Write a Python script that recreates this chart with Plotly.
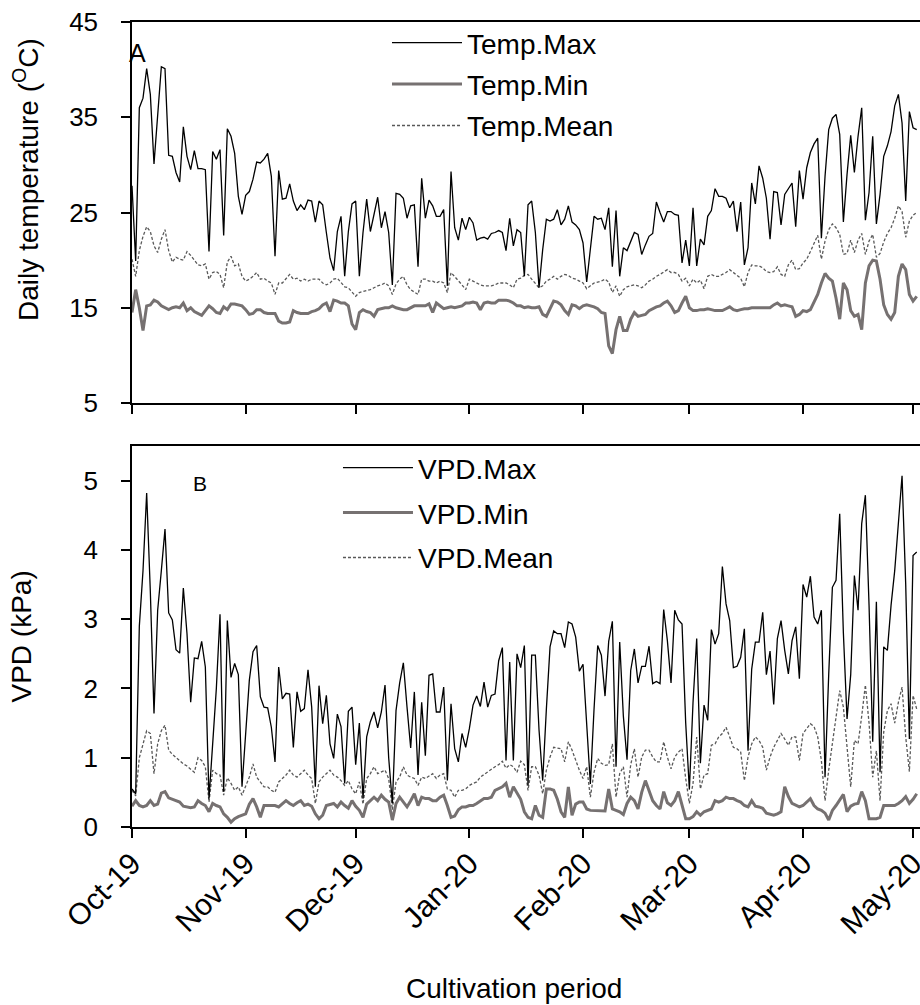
import pandas as pd
import plotly.graph_objects as go

START = "2019-10-01"

temp_max = [
    27.8, 19.9, 36.0, 37.0, 40.1, 37.4, 30.1, 35.0, 40.3, 40.1,
    31.0, 30.9, 29.2, 28.2, 34.0, 30.9, 29.5, 31.5, 29.6, 29.6,
    29.5, 20.9, 31.4, 30.6, 31.6, 22.6, 33.8, 33.0, 31.2, 26.7,
    24.8, 26.8, 27.2, 28.5, 30.3, 30.2, 30.6, 31.2, 28.8, 20.4,
    29.4, 26.4, 26.5, 28.0, 26.2, 25.2, 25.8, 25.3, 26.3, 26.2,
    24.0, 26.2, 25.8, 22.9, 20.2, 18.9, 23.0, 24.6, 18.3, 23.0,
    25.9, 26.2, 18.3, 22.9, 26.4, 23.0, 25.0, 26.6, 23.4, 25.1,
    22.9, 17.4, 27.0, 26.9, 26.5, 24.4, 25.7, 25.8, 19.3, 28.6,
    24.4, 26.3, 25.7, 24.6, 24.6, 25.3, 17.3, 29.3, 23.4, 22.1,
    24.4, 23.2, 24.5, 23.9, 22.1, 22.3, 22.4, 22.2, 22.8, 22.9,
    23.1, 22.9, 21.0, 24.4, 21.5, 23.2,
    22.9, 18.3, 25.8, 26.2, 22.9, 17.1, 21.1, 24.3, 24.1, 24.3,
    25.3, 23.7, 24.3, 25.7, 24.0, 23.7, 23.2, 21.8, 17.7, 21.5,
    24.6, 24.3, 24.4, 23.2, 25.5, 19.3, 25.2, 18.3, 21.3, 21.0,
    21.9, 22.9, 22.7, 20.6, 21.6, 22.5, 22.8, 26.1, 25.0, 24.0,
    25.1, 25.1, 24.8, 24.7, 19.7, 22.1, 19.4, 25.5, 19.4, 22.2,
    21.6, 24.6, 25.2, 27.5, 26.7, 26.7, 26.5, 25.5, 26.2, 23.0,
    26.1, 19.5, 21.3, 28.1, 25.9, 29.9, 28.6, 26.5, 22.2, 27.2,
    27.1, 23.7, 26.9, 27.5, 28.1, 23.5, 29.4, 26.4, 29.7, 31.3,
    32.2, 32.8, 22.3, 28.8, 33.7, 34.9, 35.3, 33.2, 24.0, 29.0,
    33.1, 29.2, 33.0, 36.0, 24.2, 27.1, 33.0, 23.8, 26.9, 30.9,
    32.0, 33.5, 36.2, 37.4, 34.4, 26.2, 35.6, 33.9, 33.7,
]

temp_min = [
    14.5, 16.9, 15.0, 12.6, 15.2, 15.3, 15.8, 15.6, 15.2, 15.0,
    14.8, 15.0, 15.1, 15.0, 15.5, 14.7, 15.0, 14.6, 14.4, 14.2,
    14.7, 15.2, 14.9, 14.5, 14.4, 15.1, 14.8, 15.4, 15.4, 15.3,
    15.2, 14.8, 14.3, 14.4, 14.8, 14.8, 14.5, 14.4, 14.4, 14.4,
    13.6, 13.4, 13.4, 13.5, 14.7, 14.5, 14.4, 14.4, 14.4, 14.6,
    14.7, 14.9, 15.3, 15.5, 14.6, 15.8, 15.7, 15.5, 15.5, 15.2,
    13.3, 12.7, 14.5, 14.8, 14.6, 14.5, 14.1, 14.8, 14.9, 15.0,
    15.0, 15.2, 15.0, 14.9, 14.8, 14.8, 15.0, 15.2, 15.2, 15.2,
    15.2, 15.4, 14.5, 15.5, 15.2, 14.9, 15.0, 15.1, 15.0, 15.1,
    15.2, 15.5, 15.5, 15.6, 15.5, 14.8, 15.5, 15.6, 15.5, 15.5,
    15.8, 15.8, 15.8, 15.7, 15.5, 15.2,
    15.2, 15.0, 15.1, 15.0, 15.0, 15.1, 14.3, 14.1, 15.0, 15.7,
    15.6, 15.3, 14.7, 14.3, 15.3, 15.2, 14.9, 15.2, 15.3, 15.2,
    15.1, 14.9, 14.5, 14.4, 11.0, 10.2, 12.7, 14.1, 12.6, 12.6,
    13.8, 14.5, 14.1, 14.2, 14.3, 14.7, 14.9, 15.1, 15.2, 15.5,
    15.7, 15.2, 14.5, 14.7, 15.5, 16.2, 15.0, 14.7, 14.7, 14.8,
    14.8, 14.9, 14.8, 14.7, 14.7, 14.7, 14.9, 15.1, 14.8, 14.7,
    14.8, 14.9, 14.9, 15.0, 15.0, 15.0, 15.0, 15.0, 15.0, 15.3,
    15.5, 15.2, 15.3, 15.2, 15.1, 14.1, 14.3, 14.7, 14.6, 14.8,
    15.6, 16.4, 17.6, 18.6, 18.1, 17.8, 16.0, 13.8, 17.6, 16.9,
    14.7, 14.1, 14.3, 12.7, 17.6, 19.4, 20.0, 19.9, 18.0, 15.3,
    14.3, 13.8, 14.5, 18.3, 19.6, 19.0, 16.4, 15.7, 16.2,
]

temp_mean = [
    20.1, 18.3, 21.0, 22.5, 23.5, 23.0, 21.5, 20.8, 22.2, 23.2,
    21.0, 19.8, 20.3, 20.1, 20.0, 20.9, 20.5, 20.0, 19.5, 19.4,
    19.6, 18.0, 18.7, 18.8, 18.5, 17.1, 19.8, 20.4, 19.4, 19.6,
    18.3, 17.8, 18.0, 18.3, 18.7, 18.0, 18.1, 17.8, 17.6, 16.4,
    17.6, 17.6, 18.1, 18.5, 18.0, 18.1, 17.8, 18.0, 17.8, 18.0,
    18.0, 18.0, 17.6, 17.4, 17.6, 18.0, 18.1, 17.6, 17.2, 17.1,
    16.6, 16.2, 16.6, 16.7, 16.8, 16.9, 17.1, 17.3, 17.4, 17.6,
    17.3, 16.4, 17.5, 18.0, 18.3, 17.4, 16.9, 16.6, 16.4, 18.0,
    18.0, 17.8, 17.8, 17.6, 17.8, 17.6, 16.6, 18.7, 18.3, 17.8,
    17.4, 16.9, 18.0, 17.8, 17.6, 17.4, 17.3, 17.3, 17.3, 17.4,
    17.6, 17.6, 17.6, 17.4, 17.1, 18.0,
    18.1, 18.4, 18.5, 18.0, 17.6, 17.1, 17.3, 17.8, 18.0, 18.3,
    18.0, 18.3, 18.5, 18.4, 18.1, 18.0, 17.8, 17.6, 17.0, 17.3,
    17.6, 17.7, 17.8, 18.0, 17.7, 16.6, 17.3, 16.2, 16.9, 17.2,
    17.3, 17.4, 17.3, 17.1, 17.4, 17.8, 18.0, 18.3, 18.5, 18.8,
    19.0, 18.7, 18.7, 18.5, 17.8, 18.1, 17.3, 18.0, 17.6, 17.9,
    17.0, 18.3, 18.5, 18.3, 18.3, 18.5, 18.7, 19.0, 18.7, 18.4,
    18.1, 17.2, 18.7, 19.5, 19.4, 19.4, 19.2, 18.8, 18.7, 18.8,
    19.3, 18.5, 18.3, 19.5, 20.0, 19.0, 19.1, 19.7, 20.1, 20.9,
    21.8, 22.6, 20.1, 22.0, 23.2, 23.8, 23.4, 22.7, 20.6, 20.7,
    22.1, 20.8, 22.1, 22.8, 20.6, 22.0, 22.7, 20.3, 20.7, 21.9,
    22.8, 23.4, 24.4, 25.7, 25.1, 22.4, 24.1, 24.7, 25.0,
]

vpd_max = [
    0.55, 0.48, 2.90, 3.70, 4.82, 3.40, 1.64, 3.13, 3.70, 4.30,
    3.09, 2.99, 2.56, 2.51, 3.45, 2.79, 1.80, 2.44, 2.43, 2.68,
    2.31, 0.41, 1.20, 2.00, 3.07, 0.51, 2.98, 2.16, 2.36, 2.20,
    0.58, 1.40, 2.12, 2.53, 2.62, 1.88, 1.73, 1.72, 1.44, 0.94,
    2.31, 1.85, 1.93, 1.92, 1.15, 1.95, 1.67, 1.71, 2.27, 1.73,
    0.58, 2.04, 1.49, 1.90, 1.20, 0.99, 1.63, 1.45, 0.63, 1.67,
    1.73, 0.90, 1.50, 0.41, 1.30, 1.52, 1.66, 1.43, 1.66, 2.05,
    1.00, 0.34, 1.68, 2.08, 2.37, 1.73, 1.14, 1.95, 0.75, 1.80,
    1.03, 2.19, 2.21, 1.66, 1.66, 2.02, 0.67, 1.78, 1.13, 0.94,
    1.35, 1.15, 1.42, 1.76, 1.89, 1.74, 2.09, 1.73, 1.90, 1.92,
    2.40, 2.59, 0.96, 2.38, 0.96, 2.50,
    2.30, 2.62, 0.60, 2.48, 2.48, 1.40, 0.67, 1.70, 2.60, 2.83,
    2.79, 2.79, 2.59, 2.96, 2.93, 2.74, 2.25, 2.35, 1.40, 0.62,
    1.70, 2.62, 2.48, 1.89, 2.68, 2.97, 0.87, 2.67, 1.60, 0.97,
    2.26, 2.57, 2.08, 2.32, 2.32, 2.61, 2.07, 2.10, 2.07, 3.14,
    2.69, 2.08, 3.13, 2.99, 2.93, 1.50, 0.54, 1.80, 2.72, 0.92,
    1.76, 1.54, 2.85, 2.64, 2.79, 3.76, 3.22, 2.98, 2.30, 2.32,
    2.45, 2.86, 1.10, 2.28, 2.67, 2.67, 3.10, 2.20, 2.54, 1.77,
    2.72, 2.98, 2.55, 2.21, 2.69, 2.89, 2.14, 3.50, 3.32, 3.62,
    3.03, 2.93, 3.13, 0.72, 2.20, 3.46, 3.56, 4.52, 2.80, 1.56,
    2.20, 3.63, 3.13, 4.38, 4.79, 3.20, 1.23, 3.25, 0.79, 2.60,
    2.55, 3.20, 3.70, 4.40, 5.07, 3.50, 1.27, 3.92, 3.97,
]

vpd_min = [
    0.30, 0.38, 0.31, 0.29, 0.31, 0.38, 0.31, 0.33, 0.49, 0.51,
    0.42, 0.40, 0.38, 0.36, 0.30, 0.29, 0.28, 0.29, 0.38, 0.34,
    0.31, 0.22, 0.34, 0.31, 0.29, 0.19, 0.14, 0.07, 0.12, 0.15,
    0.17, 0.19, 0.33, 0.41, 0.29, 0.14, 0.31, 0.31, 0.31, 0.31,
    0.29, 0.34, 0.38, 0.34, 0.31, 0.35, 0.38, 0.31, 0.33, 0.30,
    0.19, 0.12, 0.17, 0.31, 0.33, 0.34, 0.29, 0.36, 0.31, 0.27,
    0.38, 0.30, 0.24, 0.14, 0.33, 0.38, 0.43, 0.38, 0.46, 0.40,
    0.36, 0.10, 0.34, 0.43, 0.36, 0.29, 0.38, 0.48, 0.31, 0.43,
    0.41, 0.41, 0.38, 0.38, 0.43, 0.46, 0.31, 0.14, 0.16, 0.25,
    0.29, 0.29, 0.31, 0.31, 0.34, 0.38, 0.41, 0.41, 0.43, 0.53,
    0.56, 0.58, 0.63, 0.43, 0.58, 0.48,
    0.40, 0.22, 0.14, 0.12, 0.31, 0.17, 0.14, 0.55, 0.55, 0.53,
    0.40, 0.22, 0.14, 0.58, 0.17, 0.33, 0.36, 0.36, 0.26, 0.24,
    0.24, 0.24, 0.23, 0.23, 0.55, 0.26, 0.24, 0.22, 0.18, 0.34,
    0.43, 0.38, 0.26, 0.50, 0.67, 0.53, 0.38, 0.31, 0.26, 0.51,
    0.35, 0.31, 0.38, 0.51, 0.31, 0.12, 0.12, 0.15, 0.22, 0.17,
    0.22, 0.24, 0.26, 0.38, 0.36, 0.38, 0.43, 0.41, 0.41, 0.38,
    0.36, 0.31, 0.29, 0.38, 0.30, 0.29, 0.27, 0.20, 0.18, 0.17,
    0.19, 0.22, 0.58, 0.44, 0.34, 0.31, 0.29, 0.31, 0.36, 0.41,
    0.31, 0.26, 0.24, 0.20, 0.10, 0.24, 0.31, 0.40, 0.47, 0.22,
    0.30, 0.33, 0.34, 0.51, 0.38, 0.12, 0.12, 0.12, 0.14, 0.31,
    0.31, 0.31, 0.31, 0.34, 0.38, 0.44, 0.34, 0.40, 0.48,
]

vpd_mean = [
    0.53, 0.45, 1.00, 1.20, 1.39, 1.35, 0.77, 1.20, 1.39, 1.47,
    1.11, 1.05, 1.00, 0.96, 0.91, 0.88, 0.84, 0.79, 1.00, 0.96,
    0.87, 0.36, 0.82, 0.77, 0.75, 0.46, 0.71, 0.63, 0.53, 0.58,
    0.46, 0.60, 0.72, 0.91, 0.72, 0.65, 0.58, 0.58, 0.53, 0.50,
    0.65, 0.70, 0.75, 0.82, 0.75, 0.72, 0.77, 0.82, 0.75, 0.70,
    0.34, 0.65, 0.72, 0.77, 0.82, 0.75, 0.72, 0.67, 0.60, 0.67,
    0.55, 0.48, 0.65, 0.33, 0.70, 0.77, 0.87, 0.77, 0.80, 0.82,
    0.70, 0.25, 0.65, 0.72, 0.87, 0.75, 0.72, 0.70, 0.60, 0.72,
    0.70, 0.74, 0.77, 0.70, 0.75, 0.77, 0.55, 0.53, 0.43, 0.53,
    0.53, 0.55, 0.60, 0.63, 0.65, 0.72, 0.76, 0.80, 0.84, 0.87,
    0.90, 0.95, 0.85, 0.90, 0.87, 0.79,
    0.95, 0.90, 0.53, 0.87, 0.87, 0.75, 0.48, 0.82, 1.01, 1.15,
    1.14, 1.13, 0.94, 1.23, 1.11, 0.95, 0.82, 0.70, 0.87, 0.43,
    0.79, 0.99, 0.92, 0.89, 0.90, 1.20, 0.43, 0.77, 0.87, 0.43,
    0.90, 1.13, 0.72, 1.01, 1.11, 1.11, 1.01, 0.94, 0.94, 1.23,
    1.01, 0.84, 1.01, 1.08, 1.13, 0.70, 0.34, 0.63, 1.30, 0.55,
    0.75, 0.77, 1.18, 1.20, 1.30, 1.35, 1.44, 1.30, 1.15, 1.13,
    1.08, 0.67, 1.01, 1.20, 1.30, 1.25, 1.15, 0.82, 1.01, 1.15,
    1.25, 1.35, 1.27, 1.18, 1.30, 1.30, 0.96, 1.35, 1.42, 1.49,
    1.45, 1.30, 0.96, 0.38, 0.82, 1.20, 1.59, 1.97, 1.73, 1.20,
    0.58, 1.25, 1.20, 1.60, 2.05, 1.50, 0.72, 1.10, 0.38, 1.37,
    1.68, 1.78, 1.50, 1.80, 2.02, 1.30, 0.80, 1.90, 1.70,
]

month_ticks = ["2019-10-01", "2019-11-01", "2019-12-01", "2020-01-01",
               "2020-02-01", "2020-03-01", "2020-04-01", "2020-05-01"]
month_labels = ["Oct-19", "Nov-19", "Dec-19", "Jan-20",
                "Feb-20", "Mar-20", "Apr-20", "May-20"]

temp_ticks = [5, 15, 25, 35, 45]
vpd_ticks = [0, 1, 2, 3, 4, 5]

FONT = "Liberation Sans, Arial, sans-serif"
BLACK = "#000000"
GRAY_MIN = "#767171"
GRAY_MEAN = "#595959"


def days(values):
    return pd.date_range(START, periods=len(values), freq="D")


fig = go.Figure()

# Panel A
fig.add_trace(go.Scatter(x=days(temp_mean), y=temp_mean, name="Temp.Mean", mode="lines",
                         line=dict(color=GRAY_MEAN, width=1.3, dash="3px,2px"),
                         xaxis="x", yaxis="y", legend="legend", legendgroup="a3", legendrank=3))
fig.add_trace(go.Scatter(x=days(temp_min), y=temp_min, name="Temp.Min", mode="lines",
                         line=dict(color=GRAY_MIN, width=3),
                         xaxis="x", yaxis="y", legend="legend", legendgroup="a2", legendrank=2))
fig.add_trace(go.Scatter(x=days(temp_max), y=temp_max, name="Temp.Max", mode="lines",
                         line=dict(color=BLACK, width=1.3),
                         xaxis="x", yaxis="y", legend="legend", legendgroup="a1", legendrank=1))

# Panel B
fig.add_trace(go.Scatter(x=days(vpd_mean), y=vpd_mean, name="VPD.Mean", mode="lines",
                         line=dict(color=GRAY_MEAN, width=1.3, dash="3px,2px"),
                         xaxis="x2", yaxis="y2", legend="legend2", legendgroup="b3", legendrank=3))
fig.add_trace(go.Scatter(x=days(vpd_min), y=vpd_min, name="VPD.Min", mode="lines",
                         line=dict(color=GRAY_MIN, width=3),
                         xaxis="x2", yaxis="y2", legend="legend2", legendgroup="b2", legendrank=2))
fig.add_trace(go.Scatter(x=days(vpd_max), y=vpd_max, name="VPD.Max", mode="lines",
                         line=dict(color=BLACK, width=1.3),
                         xaxis="x2", yaxis="y2", legend="legend2", legendgroup="b1", legendrank=1))

x_range = ["2019-10-01", "2020-05-02 21:30"]
axis_common = dict(showline=True, linecolor=BLACK, linewidth=1.5, ticks="outside",
                   ticklen=9, tickwidth=1.5, tickcolor=BLACK, showgrid=False, zeroline=False,
                   automargin=False)

fig.update_layout(
    width=920, height=1005,
    margin=dict(l=132, r=0, t=22, b=178, autoexpand=False),
    paper_bgcolor="white", plot_bgcolor="white",
    font=dict(family=FONT, color=BLACK),
    xaxis=dict(domain=[0, 1], range=x_range, anchor="y", mirror=True,
               tickvals=month_ticks, ticktext=month_labels, showticklabels=False, **axis_common),
    xaxis2=dict(domain=[0, 1], range=x_range, anchor="y2", mirror=True, matches="x",
                tickvals=month_ticks, ticktext=month_labels, tickangle=-45,
                ticklabelstandoff=-4, ticklabeloverflow="allow",
                tickfont=dict(family=FONT, size=30, color=BLACK), **axis_common),
    yaxis=dict(domain=[0.5267, 1], range=[5, 45], tickvals=temp_ticks, ticklabelstandoff=18,
               tickfont=dict(family=FONT, size=26, color=BLACK), **axis_common),
    yaxis2=dict(domain=[0, 0.4733], range=[0, 5.5], tickvals=vpd_ticks, ticklabelstandoff=18,
                tickfont=dict(family=FONT, size=26, color=BLACK), **axis_common),
    legend=dict(x=0.3236, y=1.005, xanchor="left", yanchor="top", bgcolor="rgba(0,0,0,0)",
                font=dict(family=FONT, size=28, color=BLACK), tracegroupgap=2,
                itemwidth=70, traceorder="grouped"),
    legend2=dict(x=0.2614, y=0.477, xanchor="left", yanchor="top", bgcolor="rgba(0,0,0,0)",
                 font=dict(family=FONT, size=28, color=BLACK), tracegroupgap=5.5,
                 itemwidth=70, traceorder="grouped"),
    showlegend=True,
)

annotations = [
    dict(text="Daily temperature (<sup>O</sup>C)", x=-0.1345, y=0.8037, xref="paper", yref="paper",
         textangle=-90, showarrow=False, xanchor="center", yanchor="middle",
         font=dict(family=FONT, size=28, color=BLACK)),
    dict(text="VPD (kPa)", x=-0.1396, y=0.2366, xref="paper", yref="paper",
         textangle=-90, showarrow=False, xanchor="center", yanchor="middle",
         font=dict(family=FONT, size=28, color=BLACK)),
    dict(text="Cultivation period", x=0.4854, y=-0.2, xref="paper", yref="paper",
         showarrow=False, xanchor="center", yanchor="middle",
         font=dict(family=FONT, size=28, color=BLACK)),
    dict(text="A", x=0.007, y=0.9615, xref="paper", yref="paper", showarrow=False,
         xanchor="center", yanchor="middle", font=dict(family=FONT, size=25, color=BLACK)),
    dict(text="B", x=0.0857, y=0.4273, xref="paper", yref="paper", showarrow=False,
         xanchor="center", yanchor="middle", font=dict(family=FONT, size=21, color=BLACK)),
]
fig.update_layout(annotations=annotations)

fig.write_html("out.html")
